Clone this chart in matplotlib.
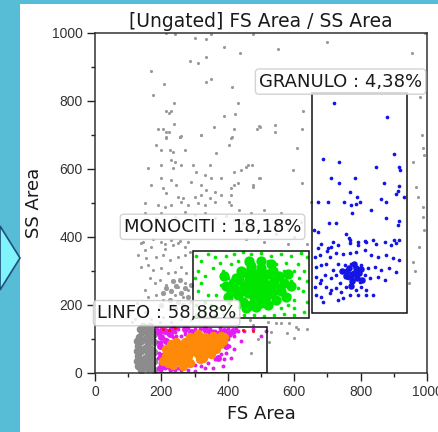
import numpy as np
import matplotlib
matplotlib.use('Agg')
from matplotlib import pyplot as plt
from matplotlib.patches import Rectangle, Polygon

#%% data (FS Area, SS Area)
gray_pts = [
    (215,999),(240,996),(300,985),(335,983),(350,998),(475,997),(390,960),(437,942),(287,919),(310,911),
    (335,929),(168,889),(335,857),(350,864),(207,850),(413,842),(175,818),(238,795),(430,795),(215,772),
    (222,766),(230,772),(390,756),(422,762),(238,733),(190,717),(205,717),(215,710),(222,708),(260,697),
    (255,693),(318,699),(358,723),(420,717),(488,717),(495,725),(215,693),(413,693),(698,975),(552,952),
    (954,942),(994,999),(628,772),(542,730),(542,710),(497,723),(623,717),(979,813),(985,700),(990,640),
    (215,690),(255,695),(320,700),(410,690),(405,671),(185,671),(200,656),(225,656),(235,651),(270,656),
    (365,646),(228,626),(240,622),(200,612),(260,612),(160,602),(235,602),(295,612),(345,612),(305,592),
    (330,582),(440,597),(455,607),(460,612),(420,592),(200,573),(230,568),(290,563),(350,573),(380,573),
    (170,553),(205,543),(245,553),(320,553),(335,538),(360,533),(410,543),(420,553),(430,558),(475,548),
    (495,573),(215,528),(250,519),(265,514),(300,519),(320,524),(345,514),(380,524),(410,524),(150,499),
    (190,494),(210,489),(230,494),(260,504),(280,494),(310,499),(330,494),(360,504),(405,504),(410,494),
    (607,661),(597,597),(622,558),(497,573),(477,553),(472,612),(987,661),(957,622),(967,548),(972,519),
    (987,489),(987,460),(652,504),(957,327),(977,371),(947,264),(990,420),(965,300),
    (145,386),(175,395),(210,380),(230,392),(255,388),(280,384),(150,470),(185,455),(200,470),(240,460),
    (270,475),(300,465),(330,470),(360,455),(395,462),(420,450),(445,440),(470,430),(490,420),(520,435),
    (545,410),(580,425),(600,400),(560,470),(510,480),(470,470),(435,480),(620,445),(640,380),(455,395),
    (510,385),(580,380),
    (140,381),(150,362),(170,371),(200,386),(210,366),(235,376),(250,381),(270,371),(130,347),(155,337),
    (185,342),(205,347),(225,332),(250,342),(270,347),(285,357),(140,313),(160,317),(175,303),(200,308),
    (220,293),(240,298),(260,313),(275,293),(165,278),(180,264),(195,273),(215,259),(230,244),(250,254),
    (270,264),(280,244),(150,244),(160,224),(185,229),(205,215),(240,229),(265,224),(285,210),(125,205),
    (145,200),(235,200),(275,190),(260,160),(290,155),(230,150),(205,165),(170,160),(195,150),(150,180),
    (120,160),(110,150),(520,150),(545,146),(560,146),(585,146),(605,136),(612,130),(640,130),(577,117),
    (530,120),(468,155),(475,140),(490,100),(525,90),(600,102),(470,60)]
gray_core = [
    (130,20),(130,50),(130,80),(132,105),(140,10),(140,35),(140,65),(140,95),(142,120),(150,20),
    (150,45),(150,75),(150,100),(152,128),(160,12),(160,35),(160,60),(160,88),(160,115),(170,22),
    (170,48),(170,72),(170,100),(170,125),(178,10),(178,35),(178,62),(178,90),(178,115),(125,35),
    (125,65),(125,95),(135,130),(165,138),(145,138)]
gray_cloud = [
    (215,250),(230,240),(245,255),(260,235),(225,215),(250,210),(270,250),(205,235),(235,270),(255,275),
    (280,225),(290,260),(200,200),(265,200),(240,190)]
green_pts = [
    (305,345),(320,330),(340,350),(360,340),(310,300),(330,285),(355,310),(375,325),(395,345),(420,350),
    (445,355),(470,350),(500,352),(530,345),(560,350),(590,345),(620,352),(640,340),(610,320),(630,300),
    (640,270),(625,240),(640,210),(630,180),(600,170),(570,175),(540,170),(510,168),(480,172),(450,170),
    (420,175),(390,170),(360,172),(330,180),(305,200),(310,240),(320,265),(340,230),(350,200),(370,190),
    (380,260),(385,300),(400,280),(410,320),(430,330),(455,325),(520,330),(545,320),(575,325),(600,300),
    (590,270),(610,250),(600,215),(580,200),(560,190),(305,170),(300,280),(330,210),(365,230),(405,205),
    (435,195),(600,190),(615,280),(570,300),(585,230)]
green_core = [
    (420,250),(430,230),(435,275),(445,210),(450,255),(455,295),(460,235),(465,275),(470,200),(470,315),
    (475,250),(480,225),(485,290),(490,265),(495,240),(500,205),(500,310),(505,275),(510,250),(515,225),
    (520,290),(525,260),(530,235),(535,300),(540,270),(545,215),(550,250),(555,285),(560,240),(570,265),
    (440,300),(425,280),(410,240),(415,265),(400,225),(395,255),(455,190),(485,195),(520,200),(575,225),
    (580,290),(465,330),(500,330),(530,320),(390,285),(590,255),(460,260),(490,230),(510,290),(530,255),
    (545,245),(480,270),(470,290),(440,240)]
blue_pts = [
    (720,795),(879,754),(687,628),(735,622),(902,644),(847,605),(917,605),(919,597),(710,573),(735,558),
    (782,573),(870,558),(917,551),(912,536),(907,526),(932,519),(767,533),(790,519),(797,504),(787,496),
    (772,494),(750,504),(702,504),(672,504),(862,511),(877,504),(774,472),(830,480),(877,457),(704,440),
    (727,440),(672,416),(917,447),(912,435),(757,408),(764,397),(767,391),(792,386),(812,388),(837,391),
    (872,386),(902,391),(907,381),(917,391),(717,386),(660,420),(680,380),(700,360),
    (672,369),(702,369),(712,371),(732,376),(767,381),(792,376),(817,386),(847,379),(892,376),(662,342),
    (677,347),(707,342),(727,352),(747,350),(767,352),(787,357),(812,362),(832,347),(852,342),(877,347),
    (897,337),(917,332),(667,313),(682,318),(697,322),(717,303),(732,322),(752,318),(762,308),(772,322),
    (782,313),(792,303),(802,318),(822,308),(842,313),(862,303),(887,308),(907,298),(667,283),(682,273),
    (692,288),(712,278),(727,288),(737,264),(752,288),(762,278),(772,293),(777,273),(787,283),(797,269),
    (812,288),(827,278),(852,283),(872,273),(662,254),(677,264),(697,254),(712,244),(727,249),(742,239),
    (757,254),(772,264),(787,244),(802,254),(817,244),(837,230),(667,229),(682,224),(687,210),(707,234),
    (732,215),(767,229),(792,229),(817,229),(747,220)]
blue_core = [(760,300),(770,285),(780,295),(790,280),(775,270),(765,310),(785,310),(795,295),(755,285),
             (800,305),(780,320),(770,255),(745,300),(805,275)]
orange_core = [
    (205,35),(215,50),(220,30),(225,60),(230,45),(235,25),(240,70),(245,50),(250,35),(255,80),
    (260,60),(265,40),(270,90),(275,70),(280,50),(285,30),(290,85),(295,65),(300,100),(305,75),
    (310,55),(315,40),(320,90),(325,70),(330,105),(335,85),(340,60),(345,95),(350,75),(355,110),
    (360,90),(365,70),(370,100),(375,85),(380,110),(385,95),(390,105),(265,20),(245,90),(285,105),
    (310,115),(325,45),(350,55),(230,85),(215,70)]
magenta_pts = [
    (188,130),(195,110),(190,90),(192,60),(195,30),(198,10),(205,125),(210,100),(205,75),(212,15),
    (220,115),(225,130),(235,105),(240,120),(250,130),(260,110),(270,125),(280,132),(295,125),(300,130),
    (315,128),(330,125),(345,130),(360,125),(375,132),(385,122),(400,128),(410,120),(420,110),(430,125),
    (400,100),(405,80),(395,60),(380,55),(360,40),(340,30),(320,20),(300,25),(280,10),(260,8),
    (240,10),(225,8),(205,55),(190,45),(200,90),(250,15),(330,15),(390,40),(420,70),(440,95),
    (450,125),(475,130),(500,110),(515,125),(410,45),(385,20),(355,15),(300,5),(270,115),(355,125),
    (425,130),(200,130),(230,128),(245,110)]
magenta_core = [(192,120),(200,105),(195,80),(210,125),(215,95),(225,115),(235,130),(200,50),(345,120),
                (360,115),(375,118),(390,125),(405,115),(415,125),(330,130),(270,130),(290,120),(210,20),
                (195,15),(230,15),(370,45),(395,80)]
red_pts = [(205,128),(222,126),(240,132),(445,127),(475,125)]

# gates and their labels
gate_names = ['LINFO : 58,88%', 'MONOCITI : 18,18%', 'GRANULO : 4,38%']
gate_x = [(182, 518), (296, 645), (654, 941)]
gate_y = [(0, 136), (163, 360), (176, 823)]
label_xy = [(6, 176), (87, 430), (494, 857)]

#%% figure
fig = plt.figure(figsize=(4.38, 4.32), dpi=100)
fig.patch.set_facecolor('#57bdd6')
fig.add_artist(Rectangle((20/438, 0), 1 - 20/438, 1 - 4/432, transform=fig.transFigure,
                         fc='white', ec='none', zorder=-1))
fig.add_artist(Polygon([(0, 1 - 226/432), (20/438, 1 - 258/432), (0, 1 - 290/432)],
                       closed=True, transform=fig.transFigure, fc='#80f4fb', ec='#1d4f7a', lw=1.2))

ax = fig.add_axes([95/438, 1 - 373/432, 332/438, 340/432])

def draw(pts, col, s):
    p = np.array(pts)
    ax.scatter(p[:, 0], p[:, 1], s=s, c=col, linewidths=0, zorder=2)

draw(gray_pts, '#999999', 5)
draw(gray_core, '#8c8c8c', 30)
draw(gray_cloud, '#999999', 14)
draw(green_pts, '#00e600', 7)
draw(green_core, '#00e600', 55)
draw(blue_pts, '#1414e6', 7)
draw(blue_core, '#1414e6', 22)
draw(magenta_pts, '#e21cf2', 8)
draw(magenta_core, '#e21cf2', 25)
draw(orange_core, '#ff8a0a', 45)
draw(red_pts, '#ff1010', 5)

for (x0, x1), (y0, y1) in zip(gate_x, gate_y):
    ax.add_patch(Rectangle((x0, y0), x1 - x0, y1 - y0, fill=False, ec='#111111', lw=1.1, zorder=3))
for name, (lx, ly) in zip(gate_names, label_xy):
    ax.text(lx, ly, name, fontsize=13, color='#1a1a1a', ha='left', va='center', zorder=4,
            bbox=dict(boxstyle='round,pad=0.2', fc='white', ec='#c8c8c8', alpha=0.8))

ax.set_xlim(0, 1000)
ax.set_ylim(0, 1000)
ax.set_xticks(range(0, 1001, 200))
ax.set_yticks(range(0, 1001, 200))
ax.set_xticks(range(100, 1000, 200), minor=True)
ax.set_yticks(range(100, 1000, 200), minor=True)
ax.tick_params(which='major', length=6, width=1, color='#222222', labelsize=10,
               labelcolor='#333333', pad=3)
ax.tick_params(which='minor', length=3, width=1, color='#222222')
for lab in ax.get_xticklabels() + ax.get_yticklabels():
    lab.set_family('Liberation Sans')
for sp in ax.spines.values():
    sp.set_color('#333333')
    sp.set_linewidth(1.1)

ax.set_title('[Ungated] FS Area / SS Area', fontsize=13.5, color='#1a1a1a', pad=4)
ax.set_xlabel('FS Area', fontsize=13, color='#1a1a1a', labelpad=4)
ax.set_ylabel('SS Area', fontsize=13, color='#1a1a1a', labelpad=6)

fig.savefig('out.png', dpi=100)
